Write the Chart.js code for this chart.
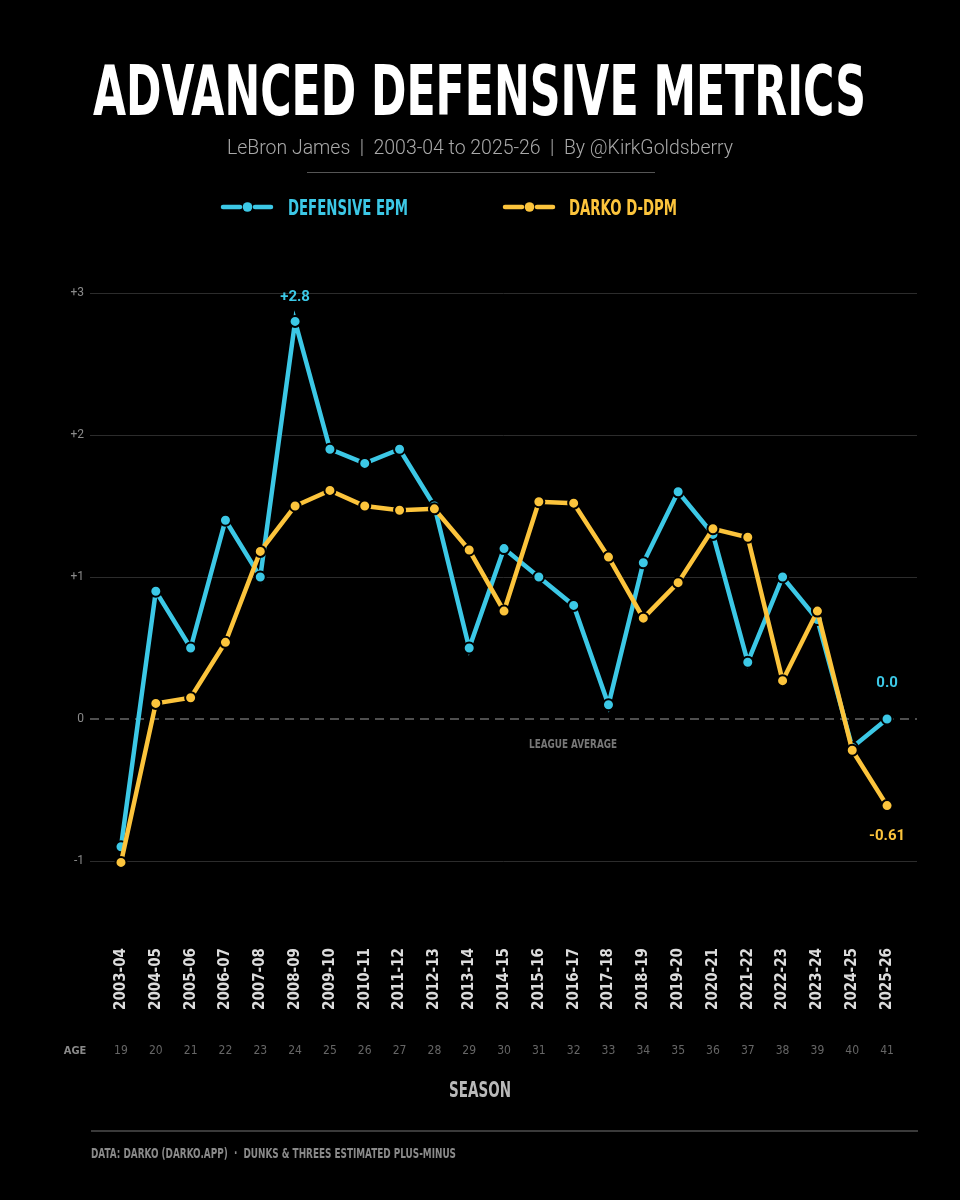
<!DOCTYPE html>
<html>
<head>
<meta charset="utf-8">
<script src="https://cdn.jsdelivr.net/npm/chart.js@4.4.1/dist/chart.umd.min.js"></script>
<style>
  html,body{margin:0;padding:0;background:#000;}
  #wrap{position:relative;width:960px;height:1200px;overflow:hidden;background:#000;}
  canvas{position:absolute;left:0;top:0;}
  .t{position:absolute;white-space:pre;transform-origin:left top;line-height:1;margin:0;}
  .cond{font-family:'Liberation Sans Narrow','DejaVu Sans Condensed','Roboto',sans-serif;font-weight:700;}
  #title{font-size:70px;color:#fff;top:56px;}
  #sub{font-family:'Roboto','Lato',sans-serif;font-weight:300;font-size:21px;color:#a9a9a9;top:137px;}
  #sep{position:absolute;left:307px;top:172px;width:348px;height:1px;background:#555;}
  .leg{font-size:21px;top:198px;}
  #leg1{color:#3cc8e6;}
  #leg2{color:#fcc43c;}
  #season{font-size:21px;color:#b9b9b9;top:1080px;}
  #fline{position:absolute;left:91px;top:1130px;width:827px;height:2px;background:#3a3a3a;}
  #foot{font-size:14px;color:#8a8a8a;top:1146px;}
</style>
</head>
<body>
<div id="wrap">
  <canvas id="c" width="960" height="1200"></canvas>
  <div id="title" class="t cond">ADVANCED DEFENSIVE METRICS</div>
  <div id="sub" class="t">LeBron James  |  2003-04 to 2025-26  |  By @KirkGoldsberry</div>
  <div id="sep"></div>
  <div id="leg1" class="t cond leg">DEFENSIVE EPM</div>
  <div id="leg2" class="t cond leg">DARKO D-DPM</div>
  <div id="season" class="t cond">SEASON</div>
  <div id="fline"></div>
  <div id="foot" class="t cond">DATA: DARKO (DARKO.APP)  ·  DUNKS &amp; THREES ESTIMATED PLUS-MINUS</div>
</div>
<script>
// ---------- DATA ----------
const seasons = ["2003-04","2004-05","2005-06","2006-07","2007-08","2008-09","2009-10","2010-11","2011-12","2012-13","2013-14","2014-15","2015-16","2016-17","2017-18","2018-19","2019-20","2020-21","2021-22","2022-23","2023-24","2024-25","2025-26"];
const ages = [19,20,21,22,23,24,25,26,27,28,29,30,31,32,33,34,35,36,37,38,39,40,41];
const defensiveEPM = [-0.9,0.9,0.5,1.4,1.0,2.8,1.9,1.8,1.9,1.5,0.5,1.2,1.0,0.8,0.1,1.1,1.6,1.3,0.4,1.0,0.7,-0.2,0.0];
const darkoDDPM = [-1.01,0.11,0.15,0.54,1.18,1.50,1.61,1.50,1.47,1.48,1.19,0.76,1.53,1.52,1.14,0.71,0.96,1.34,1.28,0.27,0.76,-0.22,-0.61];
const yTickValues = [-1,0,1,2,3];
const seriesNames = ["DEFENSIVE EPM","DARKO D-DPM"];
const annotations = [
  {series:0, index:5, text:"+2.8", dy:-24},
  {series:0, index:22, text:"0.0", dy:-36},
  {series:1, index:22, text:"-0.61", dy:31}
];

const CYAN = "#3cc8e6";
const GOLD = "#fcc43c";
const COND = "'Liberation Sans Narrow','DejaVu Sans Condensed','Roboto',sans-serif";

function fitHTML(id, left, width){
  const el = document.getElementById(id);
  el.style.transform = "none";
  const w = el.getBoundingClientRect().width;
  el.style.left = left + "px";
  el.style.transform = "scaleX(" + (width / w) + ")";
}
function layoutText(){
  fitHTML("title", 93, 773);
  fitHTML("sub", 227, 506);
  fitHTML("leg1", 288, 120);
  fitHTML("leg2", 569, 108);
  fitHTML("season", 449, 62);
  fitHTML("foot", 91, 365);
}
layoutText();
if (document.fonts && document.fonts.ready) document.fonts.ready.then(layoutText);

function fitText(ctx, text, x, y, width, align){
  const w = ctx.measureText(text).width;
  const s = width / w;
  ctx.save();
  ctx.translate(x, y);
  ctx.scale(s, 1);
  ctx.textAlign = align || "center";
  ctx.fillText(text, 0, 0);
  ctx.restore();
}

const extras = {
  id: "extras",
  beforeDatasetsDraw(chart){
    const {ctx, chartArea, scales} = chart;
    const y0 = scales.y.getPixelForValue(0);
    ctx.save();
    ctx.strokeStyle = "#6a6a6a";
    ctx.lineWidth = 1.5;
    ctx.setLineDash([9, 6]);
    ctx.beginPath();
    ctx.moveTo(chartArea.left, y0);
    ctx.lineTo(chartArea.right, y0);
    ctx.stroke();
    ctx.setLineDash([]);
    ctx.fillStyle = "#777";
    ctx.font = "bold 13px " + COND;
    ctx.textBaseline = "middle";
    fitText(ctx, "LEAGUE AVERAGE", 573, y0 + 26, 88, "center");
    ctx.restore();
  },
  afterDraw(chart){
    const {ctx, scales} = chart;
    ctx.save();
    // ages row
    ctx.textBaseline = "middle";
    ctx.textAlign = "center";
    ctx.fillStyle = "#666";
    ctx.font = "12px " + COND;
    ages.forEach((a, i) => {
      ctx.fillText(String(a), scales.x.getPixelForValue(i), 1051);
    });
    ctx.fillStyle = "#8a8a8a";
    ctx.font = "bold 11px " + COND;
    ctx.fillText("AGE", 75, 1051);

    // annotations
    ctx.font = "bold 15px Roboto, 'Open Sans', sans-serif";
    annotations.forEach(a => {
      const vals = a.series === 0 ? defensiveEPM : darkoDDPM;
      ctx.fillStyle = a.series === 0 ? CYAN : GOLD;
      const x = scales.x.getPixelForValue(a.index);
      const y = scales.y.getPixelForValue(vals[a.index]) + a.dy;
      ctx.fillText(a.text, x, y);
    });

    // legend icons
    [[222, CYAN], [504, GOLD]].forEach(([x0, col]) => {
      const y = 207;
      ctx.strokeStyle = col;
      ctx.fillStyle = col;
      ctx.lineWidth = 4.5;
      ctx.lineCap = "round";
      ctx.beginPath();
      ctx.moveTo(x0 + 1, y); ctx.lineTo(x0 + 18, y);
      ctx.moveTo(x0 + 33, y); ctx.lineTo(x0 + 49, y);
      ctx.stroke();
      ctx.beginPath();
      ctx.arc(x0 + 25.5, y, 4.8, 0, Math.PI * 2);
      ctx.fill();
    });
    ctx.restore();
  }
};

const yMin = -1 - 74 / 142;
const yMax = 3 + 43 / 142;

new Chart(document.getElementById("c"), {
  type: "line",
  data: {
    datasets: [
      {
        label: seriesNames[0],
        data: defensiveEPM.map((v, i) => ({x: i, y: v})),
        borderColor: CYAN,
        backgroundColor: CYAN,
        pointBackgroundColor: CYAN,
        pointBorderColor: "#000",
        pointBorderWidth: 2,
        pointRadius: 5.5,
        borderWidth: 4.5,
        tension: 0,
        order: 1,
        clip: false
      },
      {
        label: seriesNames[1],
        data: darkoDDPM.map((v, i) => ({x: i, y: v})),
        borderColor: GOLD,
        backgroundColor: GOLD,
        pointBackgroundColor: GOLD,
        pointBorderColor: "#000",
        pointBorderWidth: 2,
        pointRadius: 5.5,
        borderWidth: 4.5,
        tension: 0,
        order: 0,
        clip: false
      }
    ]
  },
  options: {
    responsive: false,
    animation: false,
    devicePixelRatio: 1,
    layout: {padding: {left: 60, right: 43, top: 250, bottom: 0}},
    plugins: {legend: {display: false}, tooltip: {enabled: false}, title: {display: false}},
    scales: {
      x: {
        type: "linear",
        min: -0.89,
        max: 22.86,
        afterBuildTicks: s => { s.ticks = seasons.map((_, i) => ({value: i})); },
        afterFit: s => { s.height = 265; },
        grid: {display: false, drawTicks: false},
        border: {display: false},
        ticks: {
          autoSkip: false,
          minRotation: 90,
          maxRotation: 90,
          padding: 13,
          color: "#dcdcdc",
          font: {family: COND, size: 15, weight: "bold"},
          callback: v => seasons[v]
        }
      },
      y: {
        type: "linear",
        min: yMin,
        max: yMax,
        afterBuildTicks: s => { s.ticks = yTickValues.map(v => ({value: v})); },
        afterFit: s => { s.width = 30; },
        grid: {
          drawTicks: false,
          lineWidth: 1,
          color: c => (c.tick && c.tick.value === 0) ? "rgba(0,0,0,0)" : "#2c2c2c"
        },
        border: {display: false},
        ticks: {
          padding: 6,
          color: "#8a8a8a",
          font: {family: "Roboto, sans-serif", size: 12},
          callback: v => v > 0 ? "+" + v : (v < 0 ? "-" + Math.abs(v) : "0")
        }
      }
    }
  },
  plugins: [extras]
});
</script>
</body>
</html>
